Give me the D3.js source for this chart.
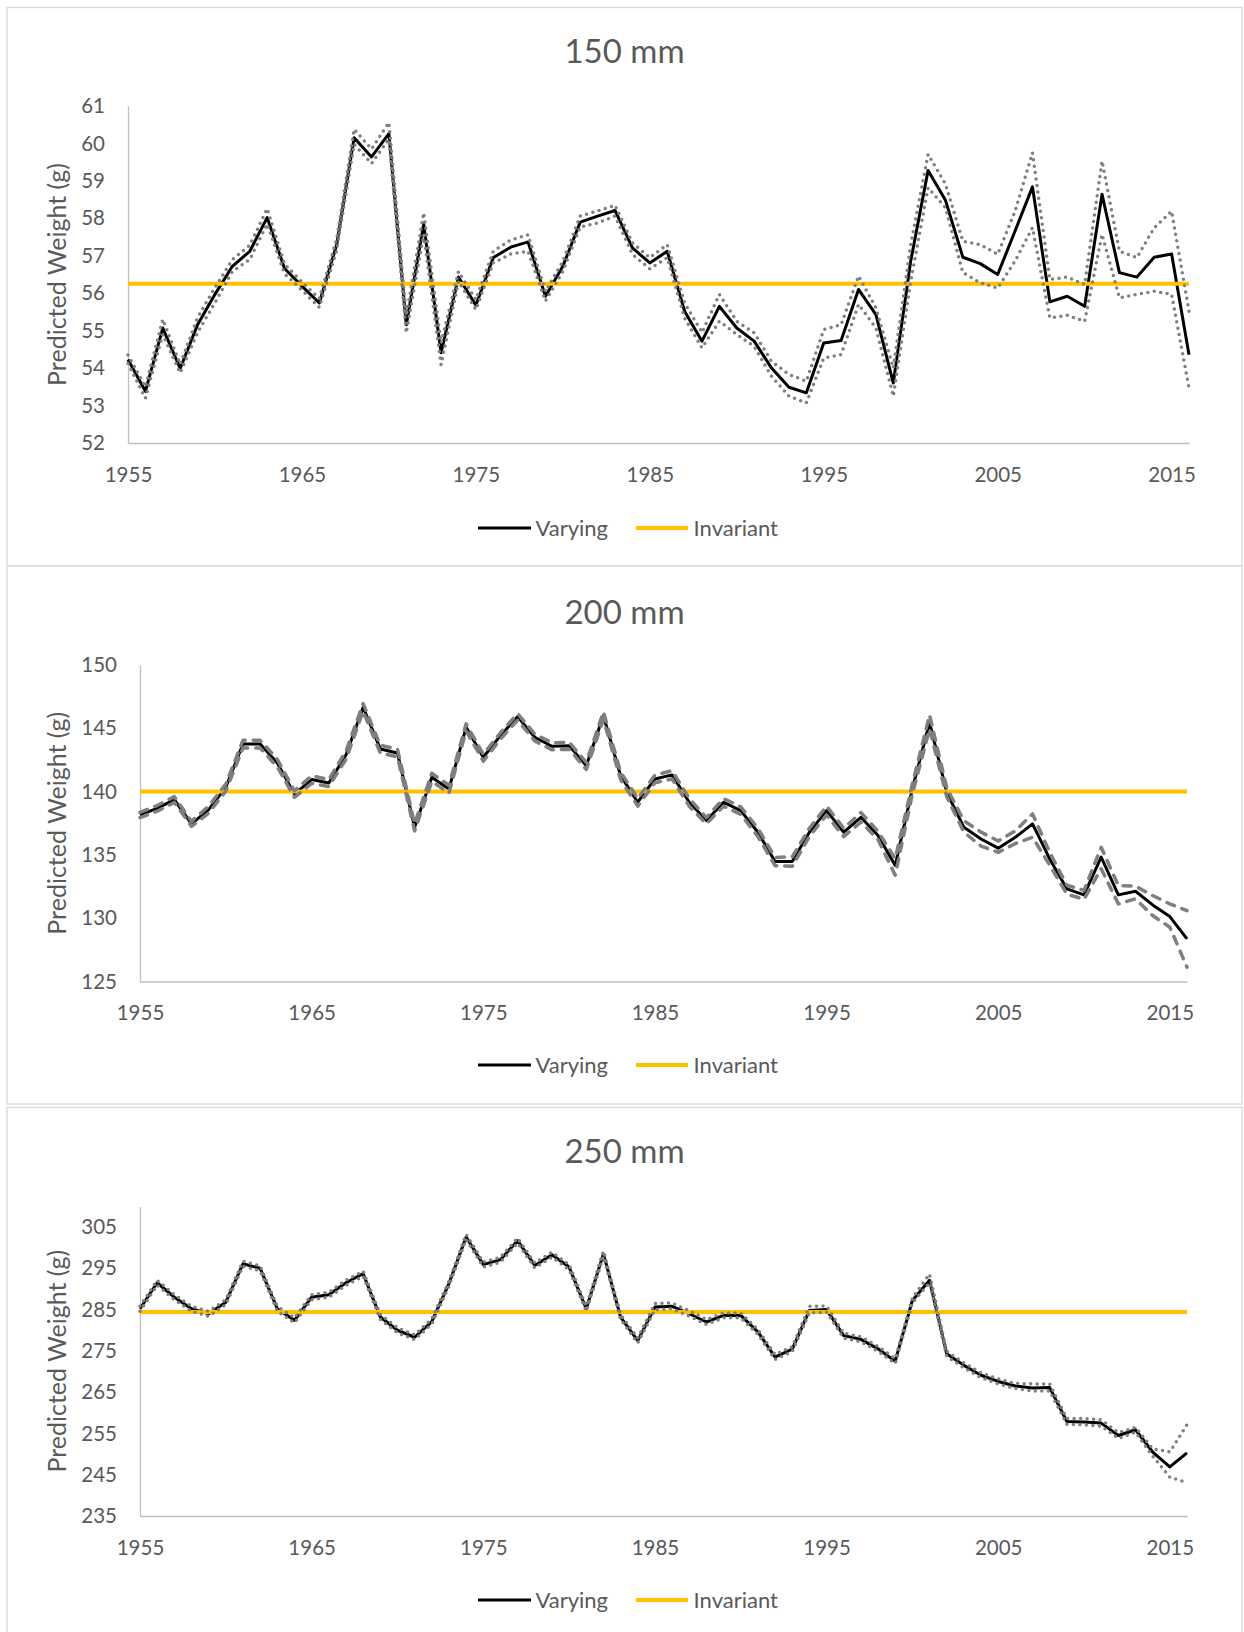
<!DOCTYPE html>
<html>
<head>
<meta charset="utf-8">
<script src="https://cdn.jsdelivr.net/npm/d3@7"></script>
<style>
  body { margin: 0; background: white; }
  svg text { font-family: Lato, "Open Sans", sans-serif; }
</style>
</head>
<body>
<div id="figure"></div>
<script>
/* Les données */
const annees = d3.range(1955, 2017); // 1955 ... 2016
const etiquettes_x = [1955, 1965, 1975, 1985, 1995, 2005, 2015];

const graduations150 = [52, 53, 54, 55, 56, 57, 58, 59, 60, 61];
const graduations200 = [125, 130, 135, 140, 145, 150];
const graduations250 = [235, 245, 255, 265, 275, 285, 295, 305];

const invariant150 = 56.25;
const invariant200 = 140.0;
const invariant250 = 284.4;

const varie150 = [54.23, 53.38, 55.07, 53.99, 55.16, 55.97, 56.72, 57.12, 58.02, 56.66,
                  56.19, 55.74, 57.30, 60.15, 59.64, 60.26, 55.16, 57.84, 54.41, 56.43,
                  55.68, 56.95, 57.23, 57.37, 55.92, 56.72, 57.90, 58.06, 58.21, 57.21,
                  56.81, 57.12, 55.52, 54.72, 55.65, 55.07, 54.72, 54.00, 53.49, 53.34,
                  54.67, 54.74, 56.10, 55.43, 53.60, 56.86, 59.28, 58.48, 56.96, 56.79,
                  56.50, 57.66, 58.84, 55.77, 55.92, 55.65, 58.64, 56.55, 56.43, 56.96,
                  57.05, 54.36];
const haut150 = [54.35, 53.50, 55.30, 54.10, 55.35, 56.15, 56.90, 57.28, 58.26, 56.78,
                 56.30, 55.86, 57.45, 60.38, 59.85, 60.56, 55.39, 58.15, 54.67, 56.58,
                 55.83, 57.12, 57.42, 57.56, 56.05, 56.85, 58.06, 58.20, 58.35, 57.35,
                 56.95, 57.30, 55.74, 54.95, 55.97, 55.25, 54.94, 54.18, 53.83, 53.65,
                 55.03, 55.16, 56.46, 55.61, 54.00, 57.30, 59.71, 58.91, 57.39, 57.30,
                 57.04, 58.19, 59.75, 56.37, 56.43, 56.23, 59.53, 57.12, 56.95, 57.75,
                 58.19, 55.52];
const bas150 = [54.12, 53.20, 54.90, 53.87, 54.95, 55.75, 56.58, 56.90, 57.85, 56.52,
                56.08, 55.62, 57.15, 59.98, 59.46, 60.12, 54.94, 57.57, 54.09, 56.32,
                55.56, 56.81, 57.05, 57.12, 55.79, 56.58, 57.77, 57.88, 58.06, 57.04,
                56.65, 56.95, 55.34, 54.54, 55.25, 54.90, 54.58, 53.78, 53.25, 53.07,
                54.27, 54.36, 55.70, 55.07, 53.25, 56.32, 58.82, 58.28, 56.55, 56.28,
                56.14, 56.86, 57.75, 55.34, 55.41, 55.25, 57.57, 55.88, 55.97, 56.05,
                55.97, 53.47];

const varie200 = [138.16, 138.68, 139.37, 137.45, 138.58, 140.34, 143.76, 143.76, 142.26, 139.80,
                  140.95, 140.68, 142.89, 146.66, 143.37, 143.05, 137.18, 141.13, 140.21, 145.08,
                  142.71, 144.42, 145.92, 144.29, 143.58, 143.63, 142.05, 146.00, 141.26, 139.16,
                  141.00, 141.32, 139.16, 137.71, 139.16, 138.50, 136.79, 134.47, 134.47, 136.79,
                  138.50, 136.79, 137.97, 136.53, 134.16, 140.21, 145.47, 139.95, 137.18, 136.26,
                  135.53, 136.39, 137.45, 134.68, 132.32, 131.84, 134.82, 131.84, 132.13, 131.05,
                  130.13, 128.37];
const haut200 = [138.35, 138.90, 139.60, 137.65, 138.85, 140.60, 144.05, 144.05, 142.55, 140.05,
                 141.25, 140.95, 143.20, 146.95, 143.65, 143.35, 137.45, 141.45, 140.50, 145.35,
                 142.95, 144.65, 146.15, 144.55, 143.85, 143.90, 142.30, 146.30, 141.55, 139.45,
                 141.30, 141.65, 139.45, 137.95, 139.45, 138.80, 137.10, 134.80, 134.85, 137.10,
                 138.85, 137.10, 138.35, 136.85, 134.70, 140.60, 146.05, 140.30, 137.70, 136.80,
                 136.10, 136.90, 138.24, 135.20, 132.60, 132.20, 135.60, 132.58, 132.53, 131.79,
                 131.13, 130.60];
const bas200 = [137.95, 138.45, 139.15, 137.25, 138.30, 140.05, 143.45, 143.45, 141.95, 139.55,
                140.65, 140.40, 142.55, 146.35, 143.05, 142.75, 136.90, 140.80, 139.90, 144.80,
                142.40, 144.15, 145.65, 144.00, 143.30, 143.35, 141.75, 145.70, 140.95, 138.85,
                140.70, 141.00, 138.85, 137.45, 138.85, 138.20, 136.45, 134.15, 134.10, 136.45,
                138.15, 136.45, 137.60, 136.20, 133.40, 139.80, 144.95, 139.60, 136.80, 135.70,
                135.20, 135.90, 136.39, 134.20, 131.90, 131.50, 133.90, 131.13, 131.53, 130.21,
                129.29, 126.13];

const varie250 = [285.2, 291.5, 288.0, 285.2, 284.0, 286.8, 296.1, 295.0, 285.2, 282.4,
                  288.0, 288.6, 291.5, 293.7, 283.2, 280.0, 278.3, 282.1, 291.3, 302.6,
                  295.9, 297.1, 301.7, 295.7, 298.3, 295.3, 285.2, 298.5, 283.2, 277.5,
                  285.6, 285.8, 284.0, 282.0, 283.6, 283.6, 279.6, 273.5, 275.4, 284.8,
                  285.0, 278.7, 277.8, 275.5, 272.5, 287.2, 292.1, 274.3, 271.5, 269.1,
                  267.6, 266.5, 266.0, 266.1, 257.9, 257.8, 257.5, 254.5, 255.9, 250.5,
                  246.9, 250.3];
const haut250 = [285.8, 292.1, 288.6, 285.8, 284.6, 287.4, 296.7, 295.6, 285.8, 283.0,
                 288.6, 289.2, 292.1, 294.3, 283.8, 280.6, 278.9, 282.7, 291.9, 303.2,
                 296.5, 297.7, 302.3, 296.3, 298.9, 295.9, 285.8, 299.2, 283.8, 278.1,
                 286.5, 286.6, 284.7, 282.6, 284.2, 284.2, 280.2, 274.1, 276.0, 285.8,
                 285.9, 279.3, 278.4, 276.1, 273.1, 287.8, 293.6, 274.9, 272.1, 269.7,
                 268.2, 267.1, 267.0, 267.0, 258.6, 258.6, 258.3, 255.2, 256.5, 251.3,
                 250.5, 257.1];
const bas250 = [284.6, 290.9, 287.4, 284.6, 283.4, 286.2, 295.5, 294.4, 284.6, 281.8,
                287.4, 288.0, 290.9, 293.1, 282.6, 279.4, 277.7, 281.5, 290.7, 302.0,
                295.3, 296.5, 301.1, 295.1, 297.7, 294.7, 284.6, 297.9, 282.6, 276.9,
                285.0, 285.2, 283.4, 281.4, 283.0, 283.0, 279.0, 272.9, 274.8, 284.2,
                284.4, 278.1, 277.2, 274.9, 271.9, 286.6, 291.5, 273.7, 270.9, 268.5,
                267.0, 265.9, 265.3, 265.3, 257.2, 257.1, 256.8, 253.8, 255.3, 249.5,
                244.4, 243.1];

/* Mise en page de chaque panneau (coordonnées en pixels de la page) */
const panneaux = [
  { titre: "150 mm", varie: varie150, haut: haut150, bas: bas150, invariant: invariant150,
    graduations: graduations150, domaine: [52, 61], trait: "points",
    cadre: [7, 7.5, 1235, 558.5], gauche: 128, droite: 1189, sommet: 106, base: 443,
    y_titre: 51, y_legende: 528 },
  { titre: "200 mm", varie: varie200, haut: haut200, bas: bas200, invariant: invariant200,
    graduations: graduations200, domaine: [125, 150], trait: "tirets",
    cadre: [7, 566, 1235, 538], gauche: 140, droite: 1187, sommet: 665, base: 981.5,
    y_titre: 612, y_legende: 1065 },
  { titre: "250 mm", varie: varie250, haut: haut250, bas: bas250, invariant: invariant250,
    graduations: graduations250, domaine: [235, 310], trait: "points",
    cadre: [7, 1107.5, 1235, 540], gauche: 140, droite: 1187, sommet: 1206.4, base: 1516,
    y_titre: 1151, y_legende: 1600 }
];

const GRIS_TEXTE = "#595959";
const GRIS_AXE = "#bfbfbf";
const JAUNE = "#FFC000";
const GRIS_BORNES = "#7f7f7f";

let svg = d3.select("#figure").append("svg")
  .attr("width", 1244)
  .attr("height", 1632);

svg.append("rect")
  .attr("width", "100%")
  .attr("height", "100%")
  .attr("fill", "white");

panneaux.forEach(p => dessinerPanneau(p));


/* Dessine un panneau complet : cadre, axes, courbes, légende */
function dessinerPanneau(p) {
  let g = svg.append("g");

  g.append("rect")
    .attr("x", p.cadre[0]).attr("y", p.cadre[1])
    .attr("width", p.cadre[2]).attr("height", p.cadre[3])
    .attr("fill", "white")
    .attr("stroke", "#d9d9d9")
    .attr("stroke-width", 1.3);

  let x = d3.scalePoint().domain(annees).range([p.gauche, p.droite]);
  let y = d3.scaleLinear().domain(p.domaine).range([p.base, p.sommet]);

  // Axe vertical
  let axeY = g.append("g")
    .attr("transform", "translate(" + p.gauche + ",0)")
    .call(d3.axisLeft(y).tickValues(p.graduations).tickSize(0).tickPadding(23));
  styleAxe(axeY);

  // Axe horizontal
  let axeX = g.append("g")
    .attr("transform", "translate(0," + p.base + ")")
    .call(d3.axisBottom(x).tickValues(etiquettes_x).tickSize(0).tickPadding(24));
  styleAxe(axeX);

  // Titre de l'axe y
  g.append("text")
    .attr("transform", "translate(57," + (p.sommet + p.base) / 2 + ") rotate(-90)")
    .attr("text-anchor", "middle")
    .attr("dy", "0.35em")
    .attr("font-size", 25)
    .attr("fill", GRIS_TEXTE)
    .text("Predicted Weight (g)");

  // Titre du panneau
  g.append("text")
    .attr("x", p.cadre[0] + p.cadre[2] / 2)
    .attr("y", p.y_titre)
    .attr("text-anchor", "middle")
    .attr("dy", "0.35em")
    .attr("font-size", 33)
    .attr("fill", GRIS_TEXTE)
    .text(p.titre);

  let ligne = d3.line()
    .x((d, i) => x(annees[i]))
    .y(d => y(d));

  // Courbe "Varying"
  g.append("path")
    .attr("d", ligne(p.varie))
    .attr("fill", "none")
    .attr("stroke", "black")
    .attr("stroke-width", 3)
    .attr("stroke-linejoin", "round");

  // Droite "Invariant"
  let extremites = [annees[0], annees[annees.length - 1]];
  g.append("path")
    .attr("d", d3.line().x(d => x(d)).y(() => y(p.invariant))(extremites))
    .attr("fill", "none")
    .attr("stroke", JAUNE)
    .attr("stroke-width", 4);

  // Bornes (pointillés ou tirets)
  [p.haut, p.bas].forEach(serie => {
    let chemin = g.append("path")
      .attr("d", ligne(serie))
      .attr("fill", "none")
      .attr("stroke", GRIS_BORNES)
      .attr("stroke-linejoin", "round")
      .attr("stroke-linecap", "round");
    if (p.trait == "points") chemin.attr("stroke-width", 3.5).attr("stroke-dasharray", "0 6.5");
    else                     chemin.attr("stroke-width", 3.5).attr("stroke-dasharray", "8 8");
  });

  // Légende
  let legende = [
    { nom: "Varying",   couleur: "black", epaisseur: 3, x0: 478, x1: 531, xt: 535.5 },
    { nom: "Invariant", couleur: JAUNE,   epaisseur: 4, x0: 636, x1: 688, xt: 693.6 }
  ];
  legende.forEach(l => {
    g.append("line")
      .attr("x1", l.x0).attr("x2", l.x1)
      .attr("y1", p.y_legende).attr("y2", p.y_legende)
      .attr("stroke", l.couleur)
      .attr("stroke-width", l.epaisseur);
    g.append("text")
      .attr("x", l.xt).attr("y", p.y_legende)
      .attr("dy", "0.35em")
      .attr("font-size", 22)
      .attr("fill", GRIS_TEXTE)
      .text(l.nom);
  });
}


function styleAxe(axe) {
  axe.attr("font-family", null).attr("font-size", 20.5);
  axe.select(".domain").attr("stroke", GRIS_AXE).attr("stroke-width", 1.3);
  axe.selectAll("text").attr("fill", GRIS_TEXTE);
}
</script>
</body>
</html>
